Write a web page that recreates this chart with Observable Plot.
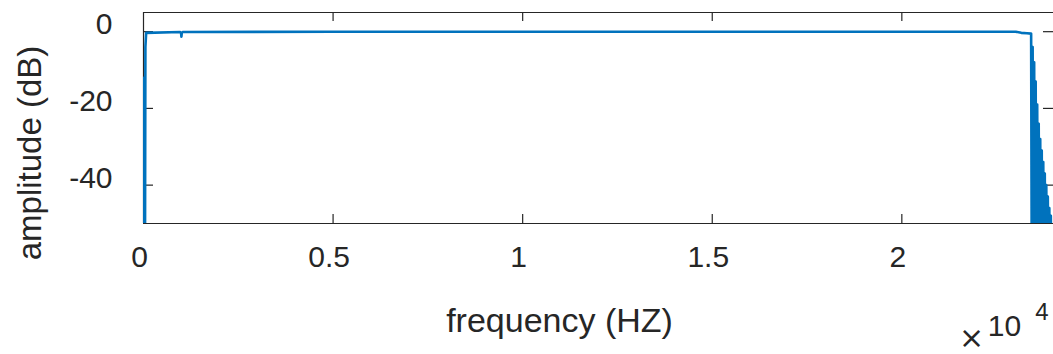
<!DOCTYPE html>
<html>
<head>
<meta charset="utf-8">
<script src="https://cdn.jsdelivr.net/npm/d3@7"></script>
<script src="https://cdn.jsdelivr.net/npm/@observablehq/plot@0.6"></script>
<style>
  html, body { margin: 0; padding: 0; background: white; overflow: hidden; }
</style>
</head>
<body>
<div id="chart"></div>
<script>
// ---- data ----
const freq = [
  0, 10, 20, 30, 40, 50, 70,
  970, 990, 1000, 1010, 1030,
  5000, 10000, 15000, 20000, 23000, 23150, 23300, 23410,
  23430, 23450, 23470, 23490, 23510, 23530, 23550, 23570, 23590, 23610,
  23630, 23650, 23670, 23690, 23710, 23730, 23750, 23770, 23790, 23810,
  23830, 23850, 23870, 23890, 23910, 23930, 23950, 23970, 23990, 24000
];
const amp = [
  -75, -12, -60, -14, -55, -4, -0.3,
  -0.1, -0.3, -1.3, -0.3, -0.1,
  0, 0, 0, 0, 0, -0.3, -0.4, -0.5,
  -75, -4, -75, -8, -75, -13, -75, -19, -75, -24,
  -75, -28, -75, -31, -75, -34, -75, -37, -75, -40,
  -75, -43, -75, -46, -75, -48, -75, -50.5, -75, -60
];
const xDomain = [0, 24000];
const yDomain = [-50, 5];
const xTicks = [0, 5000, 10000, 15000, 20000];
const xTickLabels = ["0", "0.5", "1", "1.5", "2"];
const yTicks = [-40, -20, 0];
const yTickLabels = ["-40", "-20", "0"];
const xLabel = "frequency (HZ)";
const yLabel = "amplitude (dB)";
const exponentParts = ["\u00D7", "10", "4"];

const data = freq.map((f, i) => ({f, a: amp[i]}));

const axisColor = "#262626";
const lineColor = "#0072BD";

const chart = Plot.plot({
  width: 1053,
  height: 354,
  marginLeft: 143,
  marginRight: 0,
  marginTop: 12,
  marginBottom: 131,
  style: {fontFamily: "'Liberation Sans', Arial, sans-serif", background: "white", color: axisColor},
  x: {domain: xDomain},
  y: {domain: yDomain},
  marks: [
    // box lines
    Plot.ruleY([yDomain[1]], {stroke: axisColor, strokeWidth: 1.2}),
    Plot.ruleY([yDomain[0]], {stroke: axisColor, strokeWidth: 1.2}),
    Plot.ruleX([xDomain[0]], {stroke: axisColor, strokeWidth: 1.2}),
    // inward tick marks
    Plot.ruleX(xTicks.slice(1), {stroke: axisColor, strokeWidth: 1.2, insetTop: 202}),
    Plot.ruleX(xTicks.slice(1), {stroke: axisColor, strokeWidth: 1.2, insetBottom: 202}),
    Plot.ruleY(yTicks, {stroke: axisColor, strokeWidth: 1.2, insetRight: 900}),
    Plot.ruleY(yTicks, {stroke: axisColor, strokeWidth: 1.2, insetLeft: 900}),
    // tick labels
    Plot.axisX({
      ticks: xTicks,
      tickFormat: (d) => xTickLabels[xTicks.indexOf(d)],
      tickSize: 0,
      tickPadding: 22,
      fontSize: 30,
      dx: -4,
      label: null,
      fill: axisColor
    }),
    Plot.axisY({
      ticks: yTicks,
      tickFormat: (d) => yTickLabels[yTicks.indexOf(d)],
      tickSize: 0,
      tickPadding: 31,
      fontSize: 30,
      dy: -7,
      label: null,
      fill: axisColor
    }),
    // axis labels
    Plot.text([xLabel], {
      text: (d) => d, frameAnchor: "bottom", dx: -39, dy: 98,
      fontSize: 34, lineAnchor: "middle", textAnchor: "middle", fill: axisColor
    }),
    Plot.text([yLabel], {
      text: (d) => d, frameAnchor: "left", dx: -113, dy: 35, rotate: -90,
      fontSize: 33, lineAnchor: "middle", textAnchor: "middle", fill: axisColor
    }),
    // x10^4 exponent
    Plot.text([exponentParts[0]], {
      text: (d) => d, frameAnchor: "bottom-right", dx: -82, dy: 115,
      fontSize: 30, fontFamily: "'DejaVu Sans', sans-serif",
      lineAnchor: "middle", textAnchor: "middle", fill: axisColor
    }),
    Plot.text([exponentParts[1]], {
      text: (d) => d, frameAnchor: "bottom-right", dx: -49, dy: 103,
      fontSize: 30, lineAnchor: "middle", textAnchor: "middle", fill: axisColor
    }),
    Plot.text([exponentParts[2]], {
      text: (d) => d, frameAnchor: "bottom-right", dx: -11.5, dy: 89,
      fontSize: 24, lineAnchor: "middle", textAnchor: "middle", fill: axisColor
    }),
    // response curve
    Plot.line(data, {x: "f", y: "a", stroke: lineColor, strokeWidth: 2.6, clip: true})
  ]
});
document.getElementById("chart").appendChild(chart);
</script>
</body>
</html>
